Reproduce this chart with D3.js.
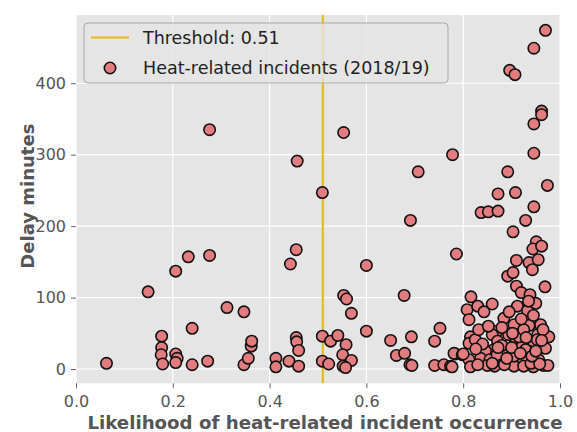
<!DOCTYPE html>
<html><head><meta charset="utf-8">
<script src="https://cdn.jsdelivr.net/npm/d3@7"></script>
<style>body{margin:0;background:#fff;}svg{display:block;font-family:"DejaVu Sans",sans-serif;}</style>
</head><body><svg id="c" width="577" height="432"></svg>
<script>
const threshold = 0.51;
const xTicks = [0.0, 0.2, 0.4, 0.6, 0.8, 1.0];
const yTicks = [0, 100, 200, 300, 400];
const likelihood = [
0.063,0.149,0.206,0.232,0.276,0.276,0.312,0.347,0.240,0.177,0.177,0.176,0.179,0.206,0.209,0.206,0.240,0.272,0.347,0.356,0.362,0.363,0.413,0.413,0.440,0.443,0.455,0.457,0.455,0.456,0.460,0.460,
0.509,0.553,0.509,0.509,0.522,0.526,0.541,0.553,0.559,0.569,0.558,0.551,0.569,0.552,0.557,0.600,0.600,0.650,0.662,0.679,0.678,0.691,0.707,0.693,0.690,0.694,0.741,0.752,0.741,0.760,0.774,0.778,0.784,0.786,
0.896,0.907,0.946,0.970,0.962,0.962,0.946,0.946,0.892,0.974,0.872,0.908,0.946,0.837,0.852,0.872,0.929,0.903,0.951,0.944,0.962,0.910,0.936,0.955,0.943,0.892,0.903,0.910,0.969,
0.920,0.938,0.816,0.808,0.830,0.860,0.812,0.843,0.884,0.912,0.933,0.905,0.870,0.860,0.936,0.960,0.954,0.977,0.970,0.815,0.812,0.825,0.908,0.894,0.871,0.863,0.922,0.946,0.936,0.891,0.781,0.798,0.846,0.836,0.812,0.855,0.877,0.898,0.912,0.932,0.956,0.777,0.815,0.850,0.865,0.905,0.925,0.945,0.966,0.975,0.800,0.953,0.929,0.905,0.885,0.830,0.940,0.958,0.960,0.965,
0.870,0.880,0.900,0.918,0.942,0.860,0.890,0.915,0.925,0.950,0.840,0.832,0.852,0.880,0.895,0.920,0.945,0.962,0.872,0.902,0.930,0.826,0.950,0.935
];
const delay = [
8,108,137,157,159,335,86,80,57,46,30,20,7,21,15,9,6,11,6,15,32,39,15,3,11,147,167,291,44,38,26,4,
247,331,46,11,7,39,47,103,98,78,34,20,12,4,2,145,53,40,19,22,103,208,276,45,6,5,39,57,5,6,4,300,21,161,
418,412,449,474,361,356,343,302,276,257,245,247,227,219,220,221,208,192,178,168,172,152,149,153,139,130,135,116,115,
107,104,101,83,88,91,69,80,71,88,82,62,53,48,61,57,48,45,29,45,36,41,39,48,39,27,32,34,25,25,22,20,25,15,13,13,13,11,13,14,13,3,3,5,4,4,4,3,5,5,21,41,27,18,6,6,8,7,62,55,
20,33,30,22,18,8,15,45,55,25,35,55,60,58,80,70,75,40,30,50,44,28,92,95
];

const svg = d3.select("#c");
const L = 76, R = 560, T = 15, B = 383.3;
const x = d3.scaleLinear().domain([0, 1]).range([L, R]);
const y = d3.scaleLinear().domain([-20, 495.5]).range([B, T]);

svg.append("rect").attr("x", L).attr("y", T).attr("width", R - L).attr("height", B - T).attr("fill", "#e5e5e5");

svg.append("g").selectAll("line").data(xTicks).join("line")
  .attr("x1", d => x(d)).attr("x2", d => x(d)).attr("y1", T).attr("y2", B)
  .attr("stroke", "#fff").attr("stroke-width", 1.2);
svg.append("g").selectAll("line").data(yTicks).join("line")
  .attr("y1", d => y(d)).attr("y2", d => y(d)).attr("x1", L).attr("x2", R)
  .attr("stroke", "#fff").attr("stroke-width", 1.2);

const xAxis = svg.append("g").attr("transform", `translate(0,${B})`)
  .call(d3.axisBottom(x).tickValues(xTicks).tickFormat(d3.format(".1f")).tickSizeOuter(0).tickSize(5).tickPadding(7));
const yAxis = svg.append("g").attr("transform", `translate(${L},0)`)
  .call(d3.axisLeft(y).tickValues(yTicks).tickSizeOuter(0).tickSize(5).tickPadding(5));
[xAxis, yAxis].forEach(a => {
  a.select(".domain").remove();
  a.selectAll(".tick line").attr("stroke", "#666");
  a.selectAll(".tick text").attr("fill", "#555").style("font-size", "16px").style("font-family", "DejaVu Sans");
});

svg.append("line").attr("x1", x(threshold)).attr("x2", x(threshold)).attr("y1", T).attr("y2", B)
  .attr("stroke", "#e6bc17").attr("stroke-width", 2.2);

svg.append("g").selectAll("circle").data(likelihood.map((v, i) => [v, delay[i]])).join("circle")
  .attr("cx", d => x(d[0])).attr("cy", d => y(d[1])).attr("r", 5.7)
  .attr("fill", "#e27c7e").attr("stroke", "#111").attr("stroke-width", 1.6);

svg.append("text").attr("x", 325).attr("y", 429).attr("text-anchor", "middle")
  .attr("fill", "#555").style("font-size", "18.2px").style("font-weight", "bold")
  .text("Likelihood of heat-related incident occurrence");
svg.append("text").attr("transform", `translate(34,${(T + B) / 2 - 3}) rotate(-90)`).attr("text-anchor", "middle")
  .attr("fill", "#555").style("font-size", "18px").style("font-weight", "bold")
  .text("Delay minutes");

const lg = svg.append("g");
lg.append("rect").attr("x", 84).attr("y", 23).attr("width", 364).attr("height", 60).attr("rx", 4)
  .attr("fill", "#e5e5e5").attr("fill-opacity", 0.8).attr("stroke", "#a8a8a8").attr("stroke-width", 1);
lg.append("line").attr("x1", 91).attr("x2", 129).attr("y1", 37.5).attr("y2", 37.5)
  .attr("stroke", "#e6bc17").attr("stroke-width", 2.2);
lg.append("circle").attr("cx", 110).attr("cy", 68).attr("r", 5.7)
  .attr("fill", "#e27c7e").attr("stroke", "#111").attr("stroke-width", 1.6);
lg.append("text").attr("x", 143).attr("y", 44).attr("fill", "#222").style("font-size", "17.5px").text("Threshold: 0.51");
lg.append("text").attr("x", 143).attr("y", 74).attr("fill", "#222").style("font-size", "17.5px").text("Heat-related incidents (2018/19)");
</script></body></html>
